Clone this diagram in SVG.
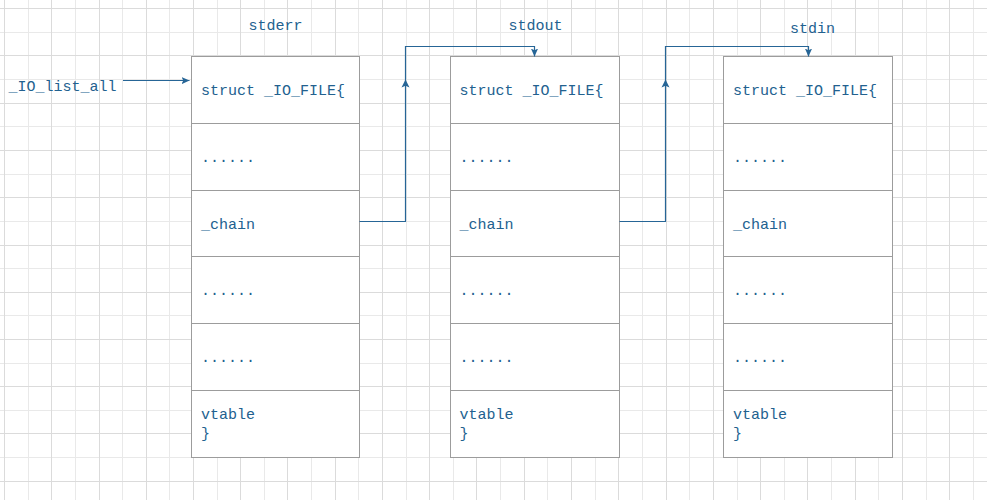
<svg xmlns="http://www.w3.org/2000/svg" width="987" height="500" viewBox="0 0 987 500">
<style>
.gmin{stroke:#e9e9e9;stroke-width:1;fill:none}
.gmaj{stroke:#dbdbdb;stroke-width:1;fill:none}
.frame{fill:#ffffff;stroke:#9c9c9c;stroke-width:1}
.sep{stroke:#9c9c9c;stroke-width:1}
.t{font-family:"Liberation Mono","DejaVu Sans Mono",monospace;font-size:15px;fill:#22618f}
.conn{fill:none;stroke:#266596;stroke-width:1.2}
.ah{fill:#266596}
</style>
<defs>
<marker id="arr" viewBox="0 0 8 8" refX="8" refY="4" markerWidth="8" markerHeight="8" orient="auto" markerUnits="userSpaceOnUse">
<path d="M0,0.4 L8,4 L0,7.6 L1.8,4 Z" fill="#266596"/>
</marker>
</defs>
<rect width="987" height="500" fill="#ffffff"/>
<g id="grid">
<path class="gmin" d="M28.5,0V500M75.5,0V500M122.5,0V500M169.5,0V500M217.5,0V500M264.5,0V500M311.5,0V500M358.5,0V500M406.5,0V500M453.5,0V500M500.5,0V500M547.5,0V500M595.5,0V500M642.5,0V500M689.5,0V500M737.5,0V500M784.5,0V500M831.5,0V500M878.5,0V500M926.5,0V500M973.5,0V500M0,32.5H987M0,79.5H987M0,126.5H987M0,174.5H987M0,221.5H987M0,268.5H987M0,315.5H987M0,363.5H987M0,410.5H987M0,457.5H987"/>
<path class="gmaj" d="M4.5,0V500M51.5,0V500M99.5,0V500M146.5,0V500M193.5,0V500M240.5,0V500M287.5,0V500M335.5,0V500M382.5,0V500M429.5,0V500M476.5,0V500M524.5,0V500M571.5,0V500M618.5,0V500M666.5,0V500M713.5,0V500M760.5,0V500M807.5,0V500M855.5,0V500M902.5,0V500M949.5,0V500M0,8.5H987M0,55.5H987M0,103.5H987M0,150.5H987M0,197.5H987M0,245.5H987M0,292.5H987M0,339.5H987M0,386.5H987M0,433.5H987M0,481.5H987"/>
</g>
<g id="io-list-all">
<text class="t" x="8.5" y="91">_IO_list_all</text>
</g>
<g id="stderr" transform="translate(191.5,56.5)">
<text class="t" x="57" y="-27">stderr</text>
<rect class="frame" x="0" y="0" width="168" height="401"/>
<path class="sep" d="M0,67H168M0,134H168M0,200H168M0,267H168M0,334H168"/>
<text class="t" x="9.5" y="38">struct _IO_FILE{</text>
<text class="t" x="9.5" y="105">......</text>
<text class="t" x="9.5" y="172">_chain</text>
<text class="t" x="9.5" y="238">......</text>
<text class="t" x="9.5" y="305">......</text>
<text class="t" x="9.5" y="362.5">vtable</text>
<text class="t" x="9.5" y="381.5">}</text>
</g>
<g id="stdout" transform="translate(450.5,56.5)">
<text class="t" x="58" y="-27">stdout</text>
<rect class="frame" x="0" y="0" width="169" height="401"/>
<path class="sep" d="M0,67H169M0,134H169M0,200H169M0,267H169M0,334H169"/>
<text class="t" x="9" y="38">struct _IO_FILE{</text>
<text class="t" x="9" y="105">......</text>
<text class="t" x="9" y="172">_chain</text>
<text class="t" x="9" y="238">......</text>
<text class="t" x="9" y="305">......</text>
<text class="t" x="9" y="362.5">vtable</text>
<text class="t" x="9" y="381.5">}</text>
</g>
<g id="stdin" transform="translate(723.5,56.5)">
<text class="t" x="66.5" y="-24">stdin</text>
<rect class="frame" x="0" y="0" width="169" height="401"/>
<path class="sep" d="M0,67H169M0,134H169M0,200H169M0,267H169M0,334H169"/>
<text class="t" x="9.5" y="38">struct _IO_FILE{</text>
<text class="t" x="9.5" y="105">......</text>
<text class="t" x="9.5" y="172">_chain</text>
<text class="t" x="9.5" y="238">......</text>
<text class="t" x="9.5" y="305">......</text>
<text class="t" x="9.5" y="362.5">vtable</text>
<text class="t" x="9.5" y="381.5">}</text>
</g>
<g id="connectors">
<path class="conn" d="M123,80.5H189.5" marker-end="url(#arr)"/>
<path class="conn" d="M359.5,221.5H405.5V46.5H534.5V56.5" marker-end="url(#arr)"/>
<polygon class="ah" points="405.5,79.5 409.5,87.5 405.5,85.7 401.5,87.5"/>
<path class="conn" d="M619.5,221.5H665.5V46.5H808.5V56.5" marker-end="url(#arr)"/>
<polygon class="ah" points="665.5,79.5 669.5,87.5 665.5,85.7 661.5,87.5"/>
</g>
</svg>
